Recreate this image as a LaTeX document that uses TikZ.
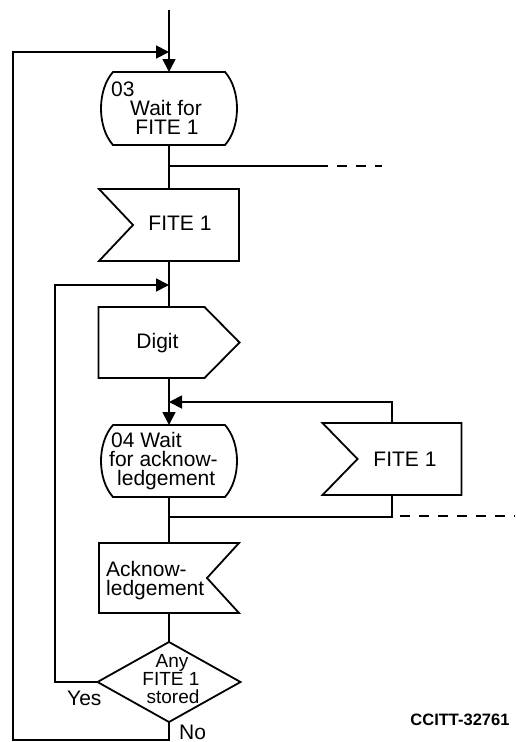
\documentclass[tikz,border=0pt]{standalone}
\usepackage{fontspec}
\setmainfont{Liberation Sans}
\usetikzlibrary{arrows.meta,calc}
\begin{document}
\begin{tikzpicture}[x=1pt,y=-1pt,
  ln/.style={line width=1.8pt, line join=miter},
  arr/.style={ln, -{Triangle[length=13pt,width=13pt]}},
  dsh/.style={ln, dash pattern=on 10pt off 9pt},
  box/.style={draw=none, inner sep=0pt, outer sep=0pt},
  txt/.style={inner sep=0pt, anchor=base, font=\fontsize{21}{18}\selectfont},
  stxt/.style={inner sep=0pt, anchor=base, font=\fontsize{19}{18}\selectfont},
  reftxt/.style={inner sep=0pt, anchor=base, font=\fontsize{16.5}{16}\selectfont\bfseries}
]
\useasboundingbox (0,0) rectangle (515,742);

% shape frames
\node[box, minimum width=138pt, minimum height=73pt] (s03) at (169,108.5) {};
\node[box, minimum width=140pt, minimum height=72pt] (in1) at (169,225) {};
\node[box, minimum width=141pt, minimum height=71pt] (dig) at (169,342.5) {};
\node[box, minimum width=138pt, minimum height=72pt] (s04) at (169,461) {};
\node[box, minimum width=139pt, minimum height=72pt] (in2) at (392,459) {};
\node[box, minimum width=140pt, minimum height=70pt] (ack) at (169,578) {};
\node[box, minimum width=143pt, minimum height=80pt] (dec) at (169,682) {};

% state 03
\draw[ln] ([xshift=13pt]s03.north west) -- ([xshift=-13pt]s03.north east)
  .. controls ([xshift=3pt,yshift=-18pt]s03.north east) and ([xshift=3pt,yshift=18pt]s03.south east) .. ([xshift=-13pt]s03.south east)
  -- ([xshift=13pt]s03.south west)
  .. controls ([xshift=-3pt,yshift=18pt]s03.south west) and ([xshift=-3pt,yshift=-18pt]s03.north west) .. cycle;
% input FITE 1
\draw[ln] (in1.north west) -- (in1.north east) -- (in1.south east) -- (in1.south west) -- ([xshift=34pt]in1.west) -- cycle;
% output Digit
\draw[ln] (dig.north west) -- ([xshift=-35pt]dig.north east) -- (dig.east) -- ([xshift=-35pt]dig.south east) -- (dig.south west) -- cycle;
% state 04
\draw[ln] ([xshift=13pt]s04.north west) -- ([xshift=-13pt]s04.north east)
  .. controls ([xshift=3pt,yshift=-18pt]s04.north east) and ([xshift=3pt,yshift=18pt]s04.south east) .. ([xshift=-13pt]s04.south east)
  -- ([xshift=13pt]s04.south west)
  .. controls ([xshift=-3pt,yshift=18pt]s04.south west) and ([xshift=-3pt,yshift=-18pt]s04.north west) .. cycle;
% input FITE 1 (second)
\draw[ln] (in2.north west) -- (in2.north east) -- (in2.south east) -- (in2.south west) -- ([xshift=35pt]in2.west) -- cycle;
% acknowledgement
\draw[ln] (ack.north west) -- (ack.north east) -- ([xshift=-32pt]ack.east) -- (ack.south east) -- (ack.south west) -- cycle;
% decision
\draw[ln] (dec.north) -- (dec.east) -- (dec.south) -- (dec.west) -- cycle;

% texts
\node[txt, anchor=base west] (t03a) at (111,96) {03};
\node[txt] (t03b) at (166,115) {Wait for};
\node[txt] (t03c) at (167,134) {FITE 1};
\node[txt] (tin1) at (180,230) {FITE 1};
\node[txt] (tdig) at (157.5,348) {Digit};
\node[txt, anchor=base west] (t04a) at (111,447) {04 Wait};
\node[txt, anchor=base west] (t04b) at (109,466) {for acknow-};
\node[txt, anchor=base west] (t04c) at (117,485) {ledgement};
\node[txt] (tin2) at (405,466) {FITE 1};
\node[txt, anchor=base west] (tacka) at (106,576.5) {Acknow-};
\node[txt, anchor=base west] (tackb) at (106,595.5) {ledgement};
\node[stxt] (tdeca) at (172,667) {Any};
\node[stxt] (tdecb) at (171,685) {FITE 1};
\node[stxt] (tdecc) at (173,703) {stored};
\node[txt, anchor=base west] (tyes) at (67,705) {Yes};
\node[txt, anchor=base west] (tno) at (179,739) {No};
\node[reftxt] (tref) at (460,725) {CCITT-32761};

% junction coordinates
\coordinate (top) at (169,10);
\coordinate (j1) at (169,52);
\coordinate (b1) at (169,166);
\coordinate (b1e) at (328,166);
\coordinate (d1a) at (337,166);
\coordinate (d1b) at (382,166);
\coordinate (j2) at (169,285);
\coordinate (j3) at (169,402);
\coordinate (j4) at (169,517);
\coordinate (d2a) at (400,516);
\coordinate (d2b) at (515,516);
\coordinate (yl) at (55,682);
\coordinate (nb) at (169,740);
\coordinate (lb) at (13,740);
\coordinate (lt) at (13,52);

% connectors
\draw[arr] (top) -- (s03.north);
\draw[ln] (s03.south) -- (in1.north);
\draw[ln] (b1) -- (b1e);
\draw[dsh] (d1a) -- (d1b);
\draw[ln] (in1.south) -- (dig.north);
\draw[arr] (dig.south) -- (s04.north);
\draw[arr] (in2.north) |- (j3);
\draw[ln] (s04.south) -- (ack.north);
\draw[ln] (in2.south) |- (j4);
\draw[dsh] (d2a) -- (d2b);
\draw[ln] (ack.south) -- (dec.north);
\draw[arr] (dec.west) -- (yl) |- (j2);
\draw[arr] (dec.south) -- (nb) -- (lb) -- (lt) -- (j1);
\end{tikzpicture}
\end{document}
